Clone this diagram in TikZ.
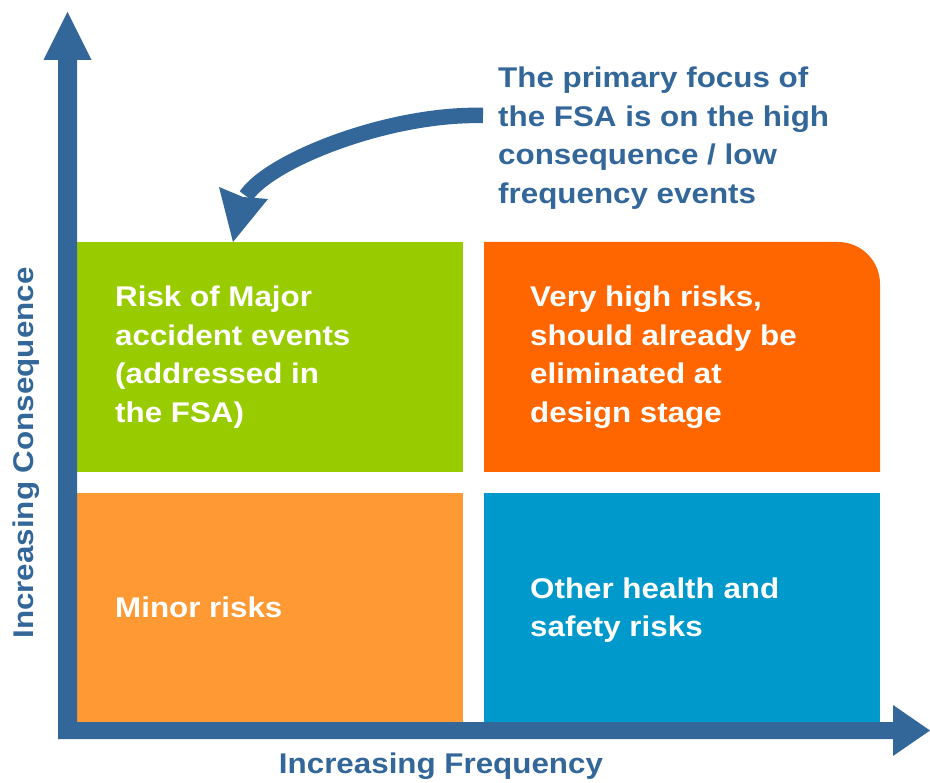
\documentclass[tikz,border=0pt]{standalone}
\usepackage{fontspec}
\setmainfont{Liberation Sans}[FakeStretch=1.1]
\definecolor{axisblue}{HTML}{336699}
\definecolor{qgreen}{HTML}{99CC00}
\definecolor{qorange}{HTML}{FF6600}
\definecolor{qlight}{HTML}{FF9933}
\definecolor{qblue}{HTML}{0099CC}
\tikzset{
  lbl/.style={font=\bfseries\fontsize{28.5}{38.5}\selectfont, inner sep=0pt, align=left},
  boxtext/.style={lbl, text=white, anchor=base west},
  bluetext/.style={lbl, text=axisblue},
  quad/.style={inner sep=0pt, minimum width=386pt, minimum height=230pt, anchor=north west},
}
\begin{document}
\begin{tikzpicture}[x=1pt,y=-1pt]
\useasboundingbox (0,0) rectangle (930,783);
% quadrants
\node[quad, fill=qgreen] (major) at (77,242) {};
\node[quad, fill=qlight] (minor) at (77,493) {};
\node[quad, fill=qblue, minimum width=396pt, minimum height=229pt] (other) at (484,493) {};
\fill[qorange] (484,472) -- (484,242) [rounded corners=42pt] -- (880,242) [sharp corners] -- (880,472) -- cycle;
\coordinate (high) at (682,357);
% axes
\fill[axisblue] (58,740) -- (58,60) -- (43.5,60) -- (67.5,12) -- (91.5,60) -- (77,60) -- (77,722)
  -- (893,722) -- (893,705) -- (930,730.5) -- (893,756) -- (893,739) -- (58,739) -- cycle;
% texts (base anchor = baseline of last line)
\node[boxtext] (t1) at (115,422.5) {Risk of Major\\accident events\\(addressed in\\the FSA)};
\node[boxtext] (t2) at (530,422.5) {Very high risks,\\should already be\\eliminated at\\design stage};
\node[boxtext] (t3) at (115,617) {Minor risks};
\node[boxtext] (t4) at (530,636.5) {Other health and\\safety risks};
\node[bluetext, anchor=base west] (focus) at (498,203.5) {The primary focus of\\the FSA is on the high\\consequence / low\\frequency events};
\node[bluetext, anchor=base] (xl) at (441,773) {Increasing Frequency};
\node[bluetext, anchor=base, rotate=90] (yl) at (33,453) {Increasing Consequence};
% curved arrow
\coordinate (astart) at (483,115.5);
\coordinate (aend) at (246,196);
\coordinate (atip) at (233,242);
\draw[axisblue, line width=15.5pt] (astart) .. controls (390,113) and (270,160) .. (aend);
\fill[axisblue] (atip) -- (219,187) -- (243,197) -- (268,199) -- cycle;
\end{tikzpicture}
\end{document}
